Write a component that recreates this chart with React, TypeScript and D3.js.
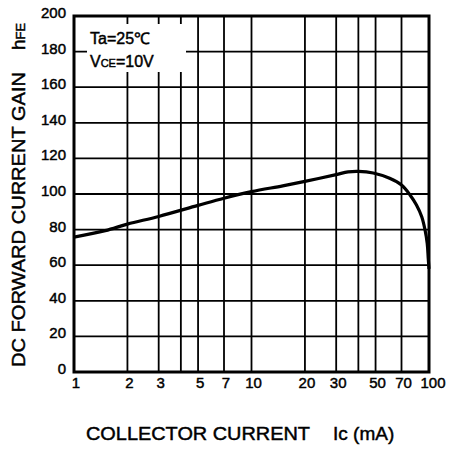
import React from "react";
import * as d3 from "d3";

// collector current (mA) vs DC current gain hFE
const icValues = [1, 1.5, 2, 3, 5, 7, 10, 15, 20, 30, 35, 40, 48.5, 60, 70, 78, 85, 91, 95, 97.7, 99, 100];
const hfeValues = [75.8, 79.4, 83.1, 87.4, 93.6, 97.6, 101.3, 104.6, 107.1, 110.9, 112.4, 112.7, 111.8, 108.8, 105, 99.6, 93.8, 87.2, 79.8, 72.3, 64, 58];

const xTickLabels = [1, 2, 3, 5, 7, 10, 20, 30, 50, 70, 100];
const xGridValues = [2, 3, 4, 5, 7, 10, 20, 30, 40, 50, 70];
const yTickValues = [0, 20, 40, 60, 80, 100, 120, 140, 160, 180, 200];

const W = 451;
const H = 449;
const left = 74;
const right = 429;
const top = 16;
const bottom = 372;
const font = "'Liberation Sans', Arial, sans-serif";

export default function App() {
  const x = d3.scaleLog().domain([1, 100]).range([left, right]);
  const y = d3.scaleLinear().domain([0, 200]).range([bottom, top]);

  const points: [number, number][] = icValues.map((v, i) => [v, hfeValues[i]]);
  const line = d3
    .line<[number, number]>()
    .x((d) => x(d[0]))
    .y((d) => y(d[1]))
    .curve(d3.curveCatmullRom.alpha(0.5));

  // scanned print looks heavier, so give the text a thin outline
  const ink = { fill: "#000", stroke: "#000", strokeWidth: 0.45 };

  return (
    <svg
      width={W}
      height={H}
      style={{ position: "absolute", left: 0, top: 0, background: "#fff" }}
      fontFamily={font}
    >
      <rect width={W} height={H} fill="#fff" />

      {/* grid */}
      {yTickValues.slice(1, -1).map((v) => (
        <line key={"gy" + v} x1={left} x2={right} y1={y(v)} y2={y(v)} stroke="#000" strokeWidth={1.8} />
      ))}
      {xGridValues.map((v) => (
        <line key={"gx" + v} x1={x(v)} x2={x(v)} y1={top} y2={bottom} stroke="#000" strokeWidth={1.8} />
      ))}

      {/* condition label box */}
      <rect x={87} y={24} width={99} height={48} fill="#fff" />
      <text x={90} y={44} fontSize={16} {...ink}>
        Ta=25℃
      </text>
      <text x={90} y={67} fontSize={16} {...ink}>
        V<tspan fontSize={11}>CE</tspan>=10V
      </text>

      {/* curve */}
      <path d={line(points) || ""} fill="none" stroke="#000" strokeWidth={3.2} strokeLinejoin="round" />

      {/* frame */}
      <rect x={left} y={top} width={right - left} height={bottom - top} fill="none" stroke="#000" strokeWidth={3} />

      {/* y ticks */}
      {yTickValues.map((v) => (
        <text key={"ty" + v} x={66} y={y(v) - 2} fontSize={15} textAnchor="end" dominantBaseline="middle" {...ink}>
          {v}
        </text>
      ))}

      {/* x ticks */}
      {xTickLabels.map((v) => (
        <text key={"tx" + v} x={x(v) + (v === 100 ? 4 : 2)} y={388} fontSize={15} textAnchor="middle" {...ink}>
          {v}
        </text>
      ))}

      {/* axis titles */}
      <text x={86} y={440} fontSize={19} textLength={224} lengthAdjust="spacingAndGlyphs" {...ink}>
        COLLECTOR CURRENT
      </text>
      <text x={333} y={440} fontSize={19} {...ink}>
        Ic (mA)
      </text>
      <text
        transform={`translate(25, ${(72 + 367) / 2}) rotate(-90)`}
        fontSize={19}
        textAnchor="middle"
        textLength={295}
        lengthAdjust="spacingAndGlyphs"
        {...ink}
      >
        DC FORWARD CURRENT GAIN
      </text>
      <text transform="translate(25, 50) rotate(-90)" fontSize={19} {...ink}>
        h<tspan fontSize={13}>FE</tspan>
      </text>
    </svg>
  );
}
